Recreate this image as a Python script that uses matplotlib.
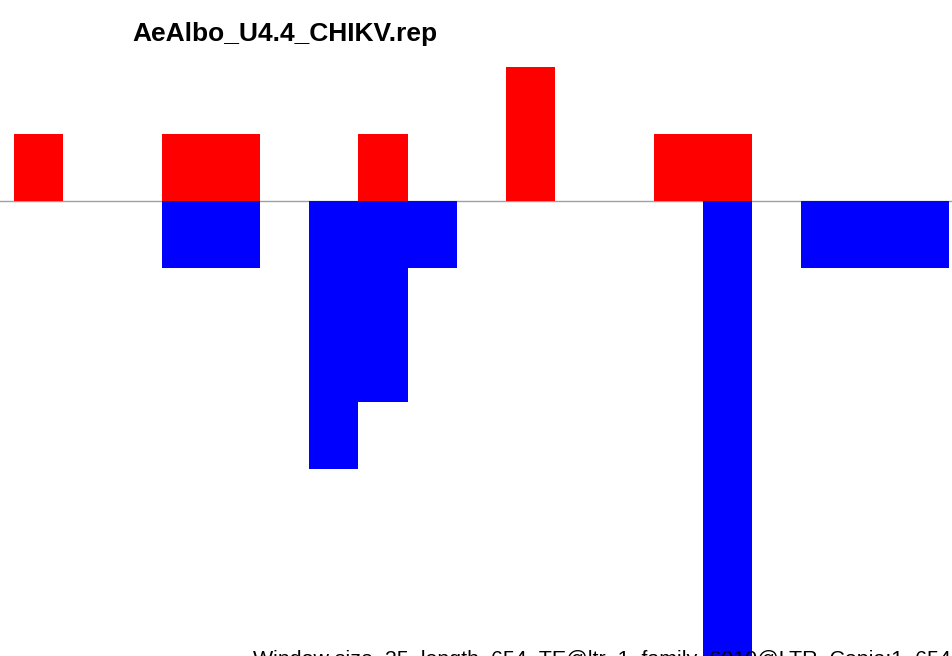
import matplotlib
matplotlib.use("Agg")
import matplotlib.pyplot as plt
import numpy as np

title = "AeAlbo_U4.4_CHIKV.rep"
footer = "Window size_25_length_654_TE@ltr_1_family_6010@LTR_Copia:1_654"

windows = list(range(19))
plus_counts = [1, 0, 0, 1, 1, 0, 0, 1, 0, 0, 2, 0, 0, 1, 1, 0, 0, 0, 0]
minus_counts = [0, 0, 0, 1, 1, 0, 4, 3, 1, 0, 0, 0, 0, 0, 7, 0, 1, 1, 1]

W, H = 953, 656
fig = plt.figure(figsize=(W / 100, H / 100), dpi=100)
ax = fig.add_axes([0, 0, 1, 1])
ax.set_xlim(-14 / 49.2, (W - 14) / 49.2)
ax.set_ylim(-(H - 201) / 67.0, 201 / 67.0)
ax.axis("off")

x = np.array(windows)
ax.bar(x, plus_counts, width=1.0, align="edge", color="#ff0000", linewidth=0, zorder=2)
ax.bar(x, [-v for v in minus_counts], width=1.0, align="edge", color="#0000ff", linewidth=0, zorder=2)
ax.axhline(0, color="#a0a0a0", linewidth=1.0, zorder=1)

fig.text(285 / W, 1 - 41 / H, title, ha="center", va="baseline",
         fontsize=19, fontweight="bold", family=["Liberation Sans", "DejaVu Sans"])
fig.text(253 / W, 1 - 665 / H, footer, ha="left", va="baseline",
         fontsize=15.4, family=["Liberation Sans", "DejaVu Sans"], zorder=5)

fig.savefig("out.png", dpi=100)
